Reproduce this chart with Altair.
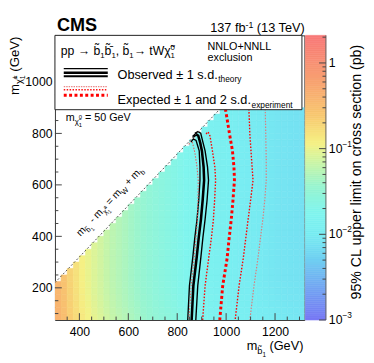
import altair as alt
import numpy as np
import pandas as pd

FONT = "Liberation Sans"
W, H = 255, 291          # plot area
OX, OY = 56, 32          # page position of plot origin

X_DOM = [300, 1320]
Y_DOM = [75, 1181]
Z_DOM = [1e-3, 2.1]

x_labels = [400, 600, 800, 1000, 1200]
y_labels = [200, 400, 600, 800, 1000]
z_major = [1e-3, 1e-2, 1e-1, 1.0]

# ---- heat map: limit per m_sbottom column (pb), slight m_chargino dependence
mb_lo = list(range(300, 1325, 25))
limit_by_mb = [0.36, 0.28, 0.20, 0.155, 0.12, 0.10, 0.085, 0.075, 0.065, 0.058,
               0.052, 0.047, 0.042, 0.038, 0.034, 0.031, 0.028, 0.026, 0.024, 0.022,
               0.020, 0.0185, 0.0172, 0.016, 0.015, 0.014, 0.0132, 0.0125, 0.0118, 0.0112,
               0.0107, 0.0102, 0.0098, 0.0094, 0.0091, 0.0088, 0.0085, 0.0083, 0.0081, 0.0079,
               0.0077]
mchi_lo = list(range(75, 900, 25))
row_factor = [1.12, 1.09, 1.06, 1.04, 1.02, 1.01] + [1.0] * 27

# ---- contours (m_sbottom, m_chargino)
obs_mb = [864, 877, 886, 894, 901, 908, 910, 904, 897, 888, 880, 866, 859]
obs_mc = [786, 797, 791, 764, 732, 669, 618, 540, 466, 395, 321, 208, 75]
obsup_mb = [872, 885, 896, 904, 914, 924, 928, 922, 914, 905, 897, 884, 876]
obsup_mc = [800, 807, 801, 770, 732, 669, 618, 540, 466, 395, 321, 208, 75]
obsdn_mb = [856, 866, 877, 884, 890, 893, 893, 888, 881, 872, 864, 850, 843]
obsdn_mc = [766, 779, 773, 751, 732, 669, 618, 540, 466, 395, 321, 208, 75]
exp_mb = [997, 1005, 1014, 1026, 1032, 1034, 1028, 1021, 1012, 1004, 986, 974]
exp_mc = [895, 850, 797, 732, 669, 618, 540, 466, 390, 314, 208, 75]
expm1_mb = [918, 926, 934, 944, 954, 957, 953, 948, 940, 930, 914, 904]
expm1_mc = [798, 806, 790, 732, 669, 618, 540, 466, 395, 325, 208, 75]
expp1_mb = [1093, 1095, 1097, 1104, 1110, 1100, 1090, 1080, 1070, 1053, 1037]
expp1_mc = [895, 850, 797, 700, 618, 540, 466, 390, 314, 208, 75]
expm2_mb = [848, 853, 861, 866, 873, 881, 886, 885, 883, 877, 870, 857, 848]
expm2_mc = [757, 770, 768, 751, 720, 669, 618, 540, 466, 395, 321, 208, 75]
expp2_mb = [1160, 1162, 1164, 1164, 1158, 1150, 1140, 1130, 1114, 1097]
expp2_mc = [895, 800, 700, 618, 540, 466, 390, 314, 208, 75]

diag_mb = [300, 985]
diag_mc = [220, 905]

# ---- colour map (fraction of log colour axis -> colour)
cmap_frac = [0.0, 0.12, 0.22, 0.30, 0.38, 0.47, 0.55, 0.62, 0.72, 0.83, 1.0]
cmap_col = ["#7878f5", "#72a8f2", "#70d2f2", "#78ecf2", "#80f5ee", "#98f5d0",
            "#c8f5a8", "#f5f285", "#f8c870", "#f8a470", "#f87878"]

lz0, lz1 = np.log10(Z_DOM[0]), np.log10(Z_DOM[1])
cmap_val = [float(10 ** (lz0 + f * (lz1 - lz0))) for f in cmap_frac]
cscale = alt.Scale(type="log", domain=cmap_val, range=cmap_col, interpolate="rgb", clamp=True)

DUMMY = pd.DataFrame({"a": [0]})

WID = {' ': .278, '(': .333, ')': .333, '+': .584, '-': .333, '=': .584, '±': .584, '.': .278,
       ',': .278, '%': .889, '→': 1.0, '−': .584, 'A': .667, 'B': .667, 'C': .722, 'D': .722,
       'E': .667, 'G': .778, 'L': .556, 'M': .833, 'N': .722, 'O': .778, 'S': .667, 'T': .611,
       'V': .667, 'W': .944, 'a': .556, 'b': .556, 'c': .5, 'd': .556, 'e': .556, 'f': .278,
       'g': .556, 'h': .556, 'i': .222, 'l': .222, 'm': .833, 'n': .556, 'o': .556, 'p': .556,
       'r': .333, 's': .5, 't': .278, 'u': .556, 'v': .5, 'x': .5, 'y': .5, 'χ': .52,
       '\u0303': 0, '\u0304': 0}


def tw(s, size):
    return sum(WID.get(c, 0.556) for c in s) * size


def rich(pieces, ax, ay, angle=0, color="black", weight="normal", anchor="start"):
    total = sum(tw(p[0], p[1]) for p in pieces if (len(p) < 4 or p[3]))
    th = np.radians(angle)
    c, s = np.cos(th), np.sin(th)
    adv = -total if anchor == "end" else 0.0
    out = []
    for p in pieces:
        txt, size, dy = p[0], p[1], p[2]
        advance = p[3] if len(p) > 3 else True
        body = txt.lstrip(" ")
        lead = tw(txt[:len(txt) - len(body)], size)
        a = adv + lead
        px = ax + a * c - dy * s
        py = ay + a * s + dy * c
        out.append(alt.Chart(DUMMY).mark_text(
            text=body, font=FONT, fontSize=size, align="left", baseline="alphabetic",
            angle=angle, color=color, fontWeight=weight
        ).encode(x=alt.value(float(px - OX)), y=alt.value(float(py - OY))))
        if advance:
            adv += tw(txt, size)
    return out


def xq(field):
    return alt.X(field, type="quantitative",
                 scale=alt.Scale(domain=X_DOM, nice=False, zero=False),
                 axis=alt.Axis(values=x_labels, title=None, ticks=False, domain=False, grid=False,
                               labelFont=FONT, labelFontSize=12.5, labelColor="black",
                               labelPadding=6, format="d"))


def yq(field):
    return alt.Y(field, type="quantitative",
                 scale=alt.Scale(domain=Y_DOM, nice=False, zero=False),
                 axis=alt.Axis(values=y_labels, title=None, ticks=False, domain=False, grid=False,
                               labelFont=FONT, labelFontSize=12.5, labelColor="black",
                               labelPadding=3, format="d"))


# heat cells
cells = []
for i, mb in enumerate(mb_lo):
    for j, mc in enumerate(mchi_lo):
        if mc <= mb - 80:
            cells.append({"x": mb, "x2": mb + 25, "y": mc, "y2": mc + 25,
                          "lim": limit_by_mb[i] * row_factor[j]})
cells = pd.DataFrame(cells)

heat = alt.Chart(cells).mark_rect(clip=True, strokeWidth=0.6).encode(
    x=xq("x"), x2="x2:Q", y=yq("y"), y2="y2:Q",
    color=alt.Color("lim:Q", scale=cscale, legend=None),
    stroke=alt.Stroke("lim:Q", scale=cscale, legend=None))


def contour(mbs, mcs, color, width, dash=None):
    df = pd.DataFrame({"mb": mbs, "mc": mcs, "i": range(len(mbs))})
    kw = dict(clip=True, color=color, strokeWidth=width)
    if dash:
        kw["strokeDash"] = dash
    return alt.Chart(df).mark_line(**kw).encode(x=xq("mb"), y=yq("mc"), order="i:Q")


lines = [
    contour(obsup_mb, obsup_mc, "black", 1.4),
    contour(obsdn_mb, obsdn_mc, "black", 1.4),
    contour(obs_mb, obs_mc, "black", 2.6),
    contour(expp2_mb, expp2_mc, "#dd7c7c", 1.2, [1.5, 1.5]),
    contour(expm2_mb, expm2_mc, "#e06060", 1.1, [1.5, 1.5]),
    contour(expp1_mb, expp1_mc, "#ff0000", 1.4, [1.6, 1.6]),
    contour(expm1_mb, expm1_mc, "#ff0000", 1.4, [1.6, 1.6]),
    contour(exp_mb, exp_mc, "#ff0000", 3.0, [3, 2.5]),
]

diag = alt.Chart(pd.DataFrame({"mb": diag_mb, "mc": diag_mc})).mark_line(
    clip=True, color="#555", strokeWidth=1, strokeDash=[2, 2]).encode(x=xq("mb"), y=yq("mc"))

# inward ticks
xt_major = pd.DataFrame({"v": [400, 600, 800, 1000, 1200]})
xt_minor = pd.DataFrame({"v": [v for v in range(350, 1320, 50) if v % 200]})
yt_major = pd.DataFrame({"v": [200, 400, 600, 800, 1000]})
yt_minor = pd.DataFrame({"v": [v for v in range(100, 1181, 50) if v % 200]})
TC = "#444"
ticks = [
    alt.Chart(xt_major).mark_rule(color=TC).encode(x=xq("v"), y=alt.value(H), y2=alt.value(H - 7)),
    alt.Chart(xt_minor).mark_rule(color=TC).encode(x=xq("v"), y=alt.value(H), y2=alt.value(H - 3.5)),
    alt.Chart(yt_major).mark_rule(color=TC).encode(y=yq("v"), x=alt.value(0), x2=alt.value(7)),
    alt.Chart(yt_minor).mark_rule(color=TC).encode(y=yq("v"), x=alt.value(0), x2=alt.value(3.5)),
]

# legend box
box = alt.Chart(DUMMY).mark_rect(fill="white", stroke="#222", strokeWidth=1).encode(
    x=alt.value(0), x2=alt.value(252.5), y=alt.value(0), y2=alt.value(76))


def sample(y, color, width, dash=None):
    kw = dict(color=color, strokeWidth=width)
    if dash:
        kw["strokeDash"] = dash
    return alt.Chart(DUMMY).mark_rule(**kw).encode(
        x=alt.value(9), x2=alt.value(54), y=alt.value(y - OY))


samples = [
    sample(66, "black", 1.3), sample(70.3, "black", 2.6), sample(73.8, "black", 2.0),
    sample(84.5, "#e88888", 1.3, [1.5, 1.0]), sample(87.6, "#ff1010", 1.3, [1.5, 1.5]),
    sample(93.3, "#ff0000", 3.0, [3, 2.5]),
]

texts = []
texts += rich([("CMS", 18.5, 0)], 58, 28, weight="bold")
texts += rich([("137 fb", 13, 0), ("-1", 9, -5), (" (13 TeV)", 13, 0)], 313, 29, anchor="end")
texts += rich([("pp", 12.5, 0), (" → b\u0303", 12.5, 0), ("1", 8, 3), ("b\u0303\u0304", 12.5, 0), ("1", 8, 3),
               (",", 12.5, 0), (" b\u0303", 12.5, 0), ("1", 8, 3), ("→", 12.5, 0), (" tWχ\u0303", 12.5, 0),
               ("0", 8, -5.5, False), ("1", 8, 3)], 62, 52.5)
texts += rich([("NNLO+NNLL", 11, 0)], 212, 47)
texts += rich([("exclusion", 11, 0)], 212, 58.5)
texts += rich([("Observed ± 1 s.d.", 13, 0), ("theory", 8.5, 3.5)], 120, 76.5)
texts += rich([("Expected ± 1 and 2 s.d.", 13, 0), ("experiment", 8.5, 3.5)], 120, 102.5)
texts += rich([("m", 11, 0), ("χ\u0303", 8, 3), ("0", 6, -2.5, False), ("1", 6, 6), (" = 50 GeV", 11, 0)],
              67, 120)
texts += rich([("m", 10.5, 0), ("b\u0303", 7.5, 3), ("1", 5.5, 5.5), (" - m", 10.5, 0), ("χ\u0303", 7.5, 3),
               ("±", 5.5, -1, False), ("1", 5.5, 5.5), (" = m", 10.5, 0), ("W", 7.5, 3),
               (" + m", 10.5, 0), ("b", 7.5, 3)], 82, 238, angle=313.6)
texts += rich([("m", 13.5, 0), ("χ\u0303", 9.5, 3.5), ("±", 7, -1.5, False), ("1", 7, 6.5),
               (" (GeV)", 13.5, 0)], 19, 93, angle=270)
texts += rich([("m", 13, 0), ("b\u0303", 9.5, 3.5), ("1", 6.5, 6.5), (" (GeV)", 13, 0)], 310, 354,
              anchor="end")
texts += rich([("95% CL upper limit on cross section (pb)", 14.5, 0)], 369, 302, angle=270)

main = alt.layer(heat, *lines, diag, *ticks, box, *samples, *texts)

# ---- colour bar
CB0, CB1 = 256, 277
zscale = alt.Scale(type="log", domain=Z_DOM, nice=False)
edges = np.logspace(lz0, lz1, 141)
cb_df = pd.DataFrame({"lo": edges[:-1], "hi": edges[1:], "mid": np.sqrt(edges[:-1] * edges[1:])})
cb = alt.Chart(cb_df).mark_rect(strokeWidth=0.6).encode(
    x=alt.value(CB0), x2=alt.value(CB1),
    y=alt.Y("lo:Q", scale=zscale, axis=None), y2="hi:Q",
    color=alt.Color("mid:Q", scale=cscale, legend=None),
    stroke=alt.Stroke("mid:Q", scale=cscale, legend=None))
z_minor = [m * 10.0 ** e for e in (-3, -2, -1, 0) for m in range(2, 10) if m * 10.0 ** e <= Z_DOM[1]]
cb_edge = alt.Chart(DUMMY).mark_rule(color="#666").encode(
    x=alt.value(CB1), y=alt.value(0), y2=alt.value(H))
cb_tmaj = alt.Chart(pd.DataFrame({"v": z_major})).mark_rule(color="#444").encode(
    y=alt.Y("v:Q", scale=zscale, axis=None), x=alt.value(CB1 - 7), x2=alt.value(CB1))
cb_tmin = alt.Chart(pd.DataFrame({"v": z_minor})).mark_rule(color="#444").encode(
    y=alt.Y("v:Q", scale=zscale, axis=None), x=alt.value(CB1 - 3.5), x2=alt.value(CB1))
cb_one = alt.Chart(pd.DataFrame({"v": [1.0], "t": ["1"]})).mark_text(
    font=FONT, fontSize=12.5, align="left", baseline="middle", color="black").encode(
    y=alt.Y("v:Q", scale=zscale, axis=None), x=alt.value(CB1 + 3), text="t:N")
cb_ten = alt.Chart(pd.DataFrame({"v": z_major[:3], "t": ["10"] * 3})).mark_text(
    font=FONT, fontSize=12.5, align="left", baseline="middle", color="black").encode(
    y=alt.Y("v:Q", scale=zscale, axis=None), x=alt.value(CB1 + 3), text="t:N")
cb_exp = alt.Chart(pd.DataFrame({"v": z_major[:3], "t": ["−3", "−2", "−1"]})).mark_text(
    font=FONT, fontSize=8.5, align="left", baseline="middle", color="black", dy=-5).encode(
    y=alt.Y("v:Q", scale=zscale, axis=None), x=alt.value(CB1 + 3 + tw("10", 12.5)), text="t:N")

cbar = alt.layer(cb, cb_edge, cb_tmaj, cb_tmin, cb_one, cb_ten, cb_exp)

chart = alt.layer(main, cbar).resolve_scale(y="independent").properties(
    width=W, height=H,
    padding={"left": OX - 8, "top": OY - 8, "right": 366 - (OX - 8) - W, "bottom": 355 - (OY - 8) - H},
    autosize=alt.AutoSizeParams(type="none"),
).configure_view(stroke="#333", strokeWidth=1)

chart.save("out.html", embed_options={"renderer": "svg", "actions": False})
